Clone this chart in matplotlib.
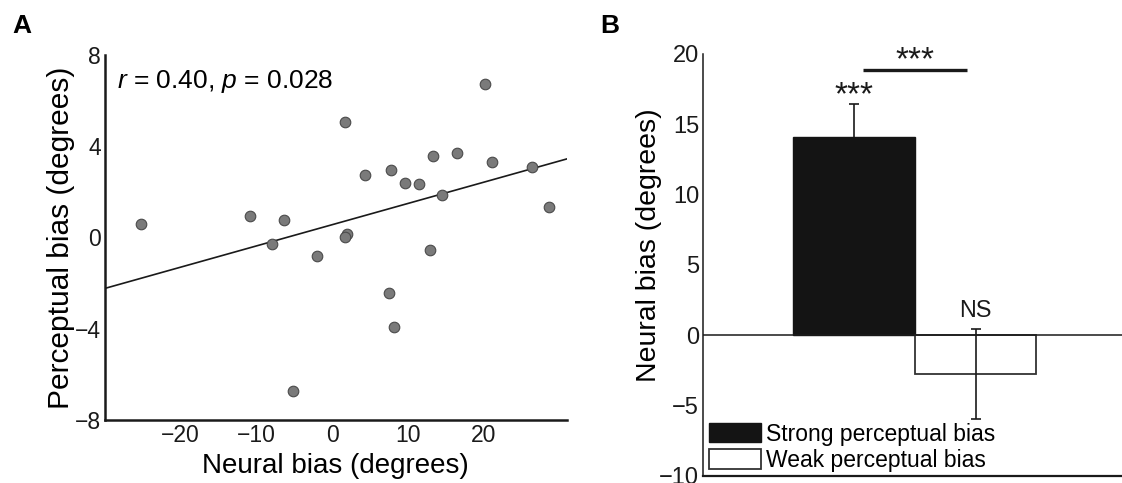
import matplotlib
matplotlib.use("Agg")
import matplotlib.pyplot as plt
import numpy as np

plt.rcParams['font.family'] = ['Liberation Sans', 'DejaVu Sans']
plt.rcParams['mathtext.fontset'] = 'custom'
plt.rcParams['mathtext.rm'] = 'Liberation Sans'
plt.rcParams['mathtext.it'] = 'Liberation Sans:italic'

# ---------------- Data ----------------
# Panel A: scatter of neural vs perceptual bias
neural_bias = [-25.2, -10.8, -6.4, -7.9, -2.0, -5.1, 1.7, 2.0, 1.7, 4.3, 7.8, 9.7,
               11.5, 13.4, 16.5, 14.5, 21.1, 20.2, 26.4, 28.6, 13.0, 7.5, 8.2]
perceptual_bias = [0.58, 0.96, 0.77, -0.30, -0.80, -6.73, 5.05, 0.15, 0.01, 2.74, 2.95, 2.38,
                   2.35, 3.59, 3.72, 1.86, 3.30, 6.75, 3.08, 1.34, -0.55, -2.43, -3.91]
fit_slope = 0.093
fit_intercept = 0.56
stats_text = r"$\it{r}$ = 0.40, $\it{p}$ = 0.028"
a_xticks = [-20, -10, 0, 10, 20]
a_yticks = [-8, -4, 0, 4, 8]

# Panel B: bar chart
groups = ["Strong perceptual bias", "Weak perceptual bias"]
group_pos = [1, 2]
group_means = [14.07, -2.78]
group_sems = [2.37, 3.18]
b_yticks = [-10, -5, 0, 5, 10, 15, 20]
sig_bar_x = [1.07, 1.93]
sig_bar_y = 18.86
star_labels = ["***", "***", "NS"]
star_x = [1.0, 1.5, 2.0]
star_y = [16.45, 18.88, 1.30]

W, H = 1122, 483
fig = plt.figure(figsize=(W / 100, H / 100), dpi=100)

# ---------------- Panel A ----------------
axA = fig.add_axes([105 / W, (H - 420) / H, 461.7 / W, 365 / H])
axA.set_xlim(-30, 31)
axA.set_ylim(-8, 8)
xl = np.array(axA.get_xlim())
axA.plot(xl, fit_slope * xl + fit_intercept, color='#1a1a1a', lw=1.2, zorder=2)
axA.scatter(neural_bias, perceptual_bias, s=58, facecolor='#7a7a7a',
            edgecolor='#4a4a4a', linewidth=0.8, zorder=3)
for s in ['top', 'right']:
    axA.spines[s].set_visible(False)
for s in ['left', 'bottom']:
    axA.spines[s].set_linewidth(1.8)
    axA.spines[s].set_color('#1a1a1a')
axA.set_xticks(a_xticks)
axA.set_yticks(a_yticks)
axA.set_xticklabels([f"{v}".replace('-', '\u2212') for v in a_xticks])
axA.set_yticklabels([f"{v}".replace('-', '\u2212') for v in a_yticks])
axA.tick_params(length=0, labelsize=16.5, pad=3, colors='#1a1a1a')
axA.set_xlabel("Neural bias (degrees)", fontsize=20)
axA.set_ylabel("Perceptual bias (degrees)", fontsize=21.5)
axA.xaxis.set_label_coords(0.5, -0.09)
axA.yaxis.set_label_coords(-0.066, 0.5)
axA.text(0.0253, 0.9088, stats_text, transform=axA.transAxes, fontsize=19,
         va='baseline', ha='left')

# ---------------- Panel B ----------------
axB = fig.add_axes([703.3 / W, (H - 475.5) / H, (W - 703.3) / W, 421.5 / H])
axB.set_xlim(-0.242, 3.204)
axB.set_ylim(-10, 20)
axB.bar(group_pos[0], group_means[0], width=1.0, color='#141414',
        edgecolor='#141414', linewidth=1.0, label=groups[0], zorder=2)
axB.bar(group_pos[1], group_means[1], width=1.0, color='white',
        edgecolor='#333333', linewidth=1.3, label=groups[1], zorder=2)
# error bars: strong bar's error bar sits behind the black bar, weak one in front
axB.errorbar(group_pos[0], group_means[0], yerr=group_sems[0], fmt='none',
             ecolor='#1a1a1a', elinewidth=1.2, capsize=3.5, capthick=1.2, zorder=1)
axB.errorbar(group_pos[1], group_means[1], yerr=group_sems[1], fmt='none',
             ecolor='#1a1a1a', elinewidth=1.2, capsize=3.5, capthick=1.2, zorder=3)
axB.axhline(0, color='#1a1a1a', lw=1.1, zorder=2.5)
axB.plot(sig_bar_x, [sig_bar_y, sig_bar_y], color='#1a1a1a', lw=2.4, solid_capstyle='butt')
for lab, x, y in zip(star_labels, star_x, star_y):
    fs = 16.8 if lab == "NS" else 24
    axB.text(x, y, lab, ha='center', va='baseline', fontsize=fs, color='#1a1a1a')
for s in ['top', 'right']:
    axB.spines[s].set_visible(False)
axB.spines['left'].set_linewidth(1.1)
axB.spines['bottom'].set_linewidth(1.6)
axB.spines['left'].set_color('#1a1a1a')
axB.spines['bottom'].set_color('#1a1a1a')
axB.set_xticks([])
axB.set_yticks(b_yticks)
axB.set_yticklabels([f"{v}".replace('-', '\u2212') for v in b_yticks])
axB.tick_params(length=0, labelsize=17, pad=3, colors='#1a1a1a')
axB.set_ylabel("Neural bias (degrees)", fontsize=20.5)
axB.yaxis.set_label_coords(-0.099, 0.546)
leg = axB.legend(loc='lower left', bbox_to_anchor=(709.3 / W, (H - 472) / H),
                 bbox_transform=fig.transFigure, frameon=False, borderpad=0,
                 borderaxespad=0, handlelength=2.27, handleheight=0.94,
                 handletextpad=0.22, labelspacing=0.15, fontsize=16.5)

# Panel letters
fig.text(12 / W, (H - 33.3) / H, "A", fontsize=19, fontweight='bold', va='baseline')
fig.text(600 / W, (H - 33) / H, "B", fontsize=19, fontweight='bold', va='baseline')

fig.savefig("out.png", dpi=100)
